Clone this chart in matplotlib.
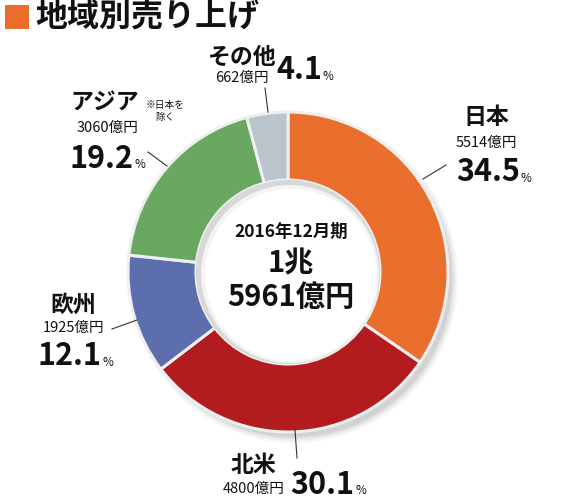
import matplotlib
matplotlib.use("Agg")
import matplotlib.pyplot as plt
from matplotlib.patches import Circle, Rectangle

plt.rcParams['font.family'] = ['Noto Sans CJK JP', 'DejaVu Sans']

title = "地域別売り上げ"
regions = ["日本", "北米", "欧州", "アジア", "その他"]
amounts = [5514, 4800, 1925, 3060, 662]          # 億円
shares = ["34.5", "30.1", "12.1", "19.2", "4.1"]  # %
colors = ["#EA6F2D", "#B21C1F", "#5C6EAE", "#69A860", "#B9C4CC"]
period = "2016年12月期"
total_lines = ["1兆", "5961億円"]

W, H = 580, 500
fig = plt.figure(figsize=(5.8, 5.0), dpi=100)
ax = fig.add_axes([0, 0, 1, 1])

def Y(py):
    return H - py

cx, cy = 288, 272
r_out, r_in = 160, 92

# soft shadow (lower right)
for i, a in enumerate([0.03, 0.04, 0.05, 0.06]):
    ax.add_patch(Circle((cx + 6, Y(cy + 7)), r_out + 4 - i * 2, color="black",
                        alpha=a, lw=0, zorder=0))

wedges, _ = ax.pie(amounts, colors=colors, startangle=90, counterclock=False,
                   center=(cx, Y(cy)), radius=r_out,
                   wedgeprops=dict(width=r_out - r_in, edgecolor="#EFEFEF",
                                   linewidth=2.2))
for w in wedges:
    w.set_zorder(2)

ax.set_xlim(0, W)
ax.set_ylim(0, H)
ax.set_aspect("auto")
ax.axis("off")

# inner hole with a subtle shadow at its upper-left edge
ax.add_patch(Circle((cx, Y(cy)), r_in, color="#D8D8D8", lw=0, zorder=3))
ax.add_patch(Circle((cx + 2, Y(cy + 2)), r_in - 3, color="#F4F4F4", lw=0, zorder=4))
ax.add_patch(Circle((cx + 3, Y(cy + 3)), r_in - 6, color="white", lw=0, zorder=4))

# title
ax.add_patch(Rectangle((5, Y(29)), 24, 24, color="#EA6F2D", lw=0))
ax.text(35, Y(17), title, fontsize=23, fontweight="bold", va="center",
        ha="left", color="#111111")

txt = "#111111"

# center text
ax.text(291, Y(232), period, fontsize=12.5, fontweight="bold", ha="center",
        va="center", color=txt, zorder=5)
ax.text(291, Y(263), total_lines[0], fontsize=21, fontweight="bold",
        ha="center", va="center", color=txt, zorder=5)
ax.text(291, Y(297), total_lines[1], fontsize=21, fontweight="bold",
        ha="center", va="center", color=txt, zorder=5)

fig.canvas.draw()
renderer = fig.canvas.get_renderer()

def label(name_xy, amt_xy, pct_xy, i):
    ax.text(name_xy[0], Y(name_xy[1]), regions[i], fontsize=16.5,
            fontweight="bold", ha="center", va="center", color=txt)
    ax.text(amt_xy[0], Y(amt_xy[1]), f"{amounts[i]}億円", fontsize=10.5,
            ha="center", va="center", color=txt)
    t = ax.text(pct_xy[0], Y(pct_xy[1]), shares[i], fontsize=22,
                fontweight="bold", ha="left", va="center", color=txt)
    bb = t.get_window_extent(renderer=renderer)
    x_end = ax.transData.inverted().transform((bb.x1, bb.y0))[0]
    ax.text(x_end + 1, Y(pct_xy[1] + 6), "%", fontsize=8.5, ha="left",
            va="center", color=txt)

line_kw = dict(color="#333333", lw=0.8)

# 日本
label((486, 118), (486, 143), (456, 172), 0)
ax.plot([446, 423], [Y(165), Y(179)], **line_kw)

# 北米
label((253, 466), (254, 489), (290, 485), 1)
ax.plot([295, 297], [Y(430), Y(458)], **line_kw)

# 欧州
label((73, 305), (74, 328), (38, 356), 2)
ax.plot([112, 137], [Y(329), Y(320)], **line_kw)

# アジア
label((105, 103), (108, 128), (70, 159), 3)
ax.text(165, Y(111), "※日本を\n除く", fontsize=7, ha="center",
        va="center", color=txt, linespacing=1.2)
ax.plot([148, 167], [Y(152), Y(166)], **line_kw)

# その他
label((242, 57), (242, 78), (276, 70), 4)
ax.plot([265, 268], [Y(88), Y(112)], **line_kw)

ax.set_xlim(0, W)
ax.set_ylim(0, H)

fig.savefig("out.png", dpi=100)
